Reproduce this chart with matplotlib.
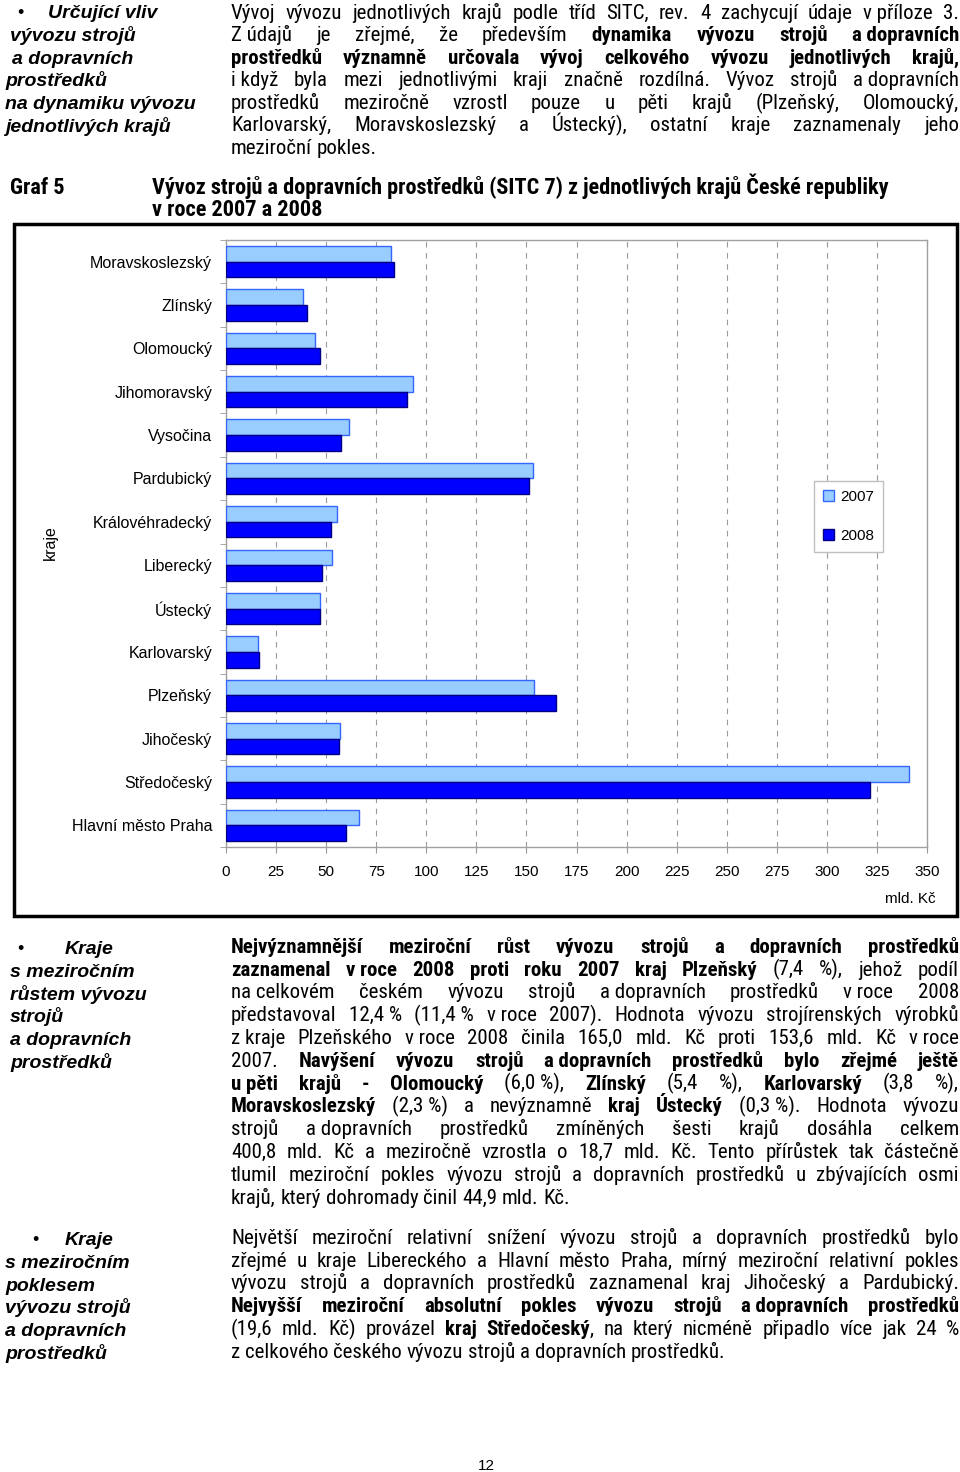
import numpy as np
import matplotlib
matplotlib.use("Agg")
import matplotlib.pyplot as plt
from matplotlib import font_manager
from matplotlib.font_manager import FontProperties
from matplotlib.patches import Patch, Rectangle

# Chart data: export of machinery and transport equipment (SITC 7), bn CZK
regions = ['Moravskoslezský', 'Zlínský', 'Olomoucký', 'Jihomoravský', 'Vysočina',
           'Pardubický', 'Královéhradecký', 'Liberecký', 'Ústecký', 'Karlovarský',
           'Plzeňský', 'Jihočeský', 'Středočeský', 'Hlavní město Praha']
export_2007 = [82.2, 38.5, 44.4, 93.6, 61.5, 153.5, 55.4, 52.8, 46.8, 16.1, 153.6, 56.7, 341.2, 66.3]
export_2008 = [84.1, 40.6, 47.1, 90.6, 57.6, 151.5, 52.2, 47.7, 46.9, 16.7, 165.0, 56.2, 321.6, 59.8]
series_labels = ['2007', '2008']
x_ticks = list(range(0, 351, 25))

NB = '\u00a0'

# Page text, one entry per printed line (** toggles bold)
intro_lines = [
    "Vývoj vývozu jednotlivých krajů podle tříd SITC, rev. 4 zachycují údaje v" + NB + "příloze 3.",
    "Z" + NB + "údajů je zřejmé, že především **dynamika vývozu strojů a" + NB + "dopravních**",
    "**prostředků významně určovala vývoj celkového vývozu jednotlivých krajů,**",
    "i" + NB + "když byla mezi jednotlivými kraji značně rozdílná. Vývoz strojů a" + NB + "dopravních",
    "prostředků meziročně vzrostl pouze u pěti krajů (Plzeňský, Olomoucký,",
    "Karlovarský, Moravskoslezský a Ústecký), ostatní kraje zaznamenaly jeho",
    "meziroční pokles.",
]
growth_lines = [
    "**Nejvýznamnější meziroční růst vývozu strojů a dopravních prostředků**",
    "**zaznamenal v" + NB + "roce 2008 proti roku 2007 kraj Plzeňský** (7,4 %), jehož podíl",
    "na" + NB + "celkovém českém vývozu strojů a" + NB + "dopravních prostředků v" + NB + "roce 2008",
    "představoval 12,4" + NB + "% (11,4" + NB + "% v" + NB + "roce 2007). Hodnota vývozu strojírenských výrobků",
    "z" + NB + "kraje Plzeňského v" + NB + "roce 2008 činila 165,0 mld. Kč proti 153,6 mld. Kč v" + NB + "roce",
    "2007. **Navýšení vývozu strojů a" + NB + "dopravních prostředků bylo zřejmé ještě**",
    "**u" + NB + "pěti krajů - Olomoucký** (6,0" + NB + "%), **Zlínský** (5,4 %), **Karlovarský** (3,8 %),",
    "**Moravskoslezský** (2,3" + NB + "%) a nevýznamně **kraj Ústecký** (0,3" + NB + "%). Hodnota vývozu",
    "strojů a" + NB + "dopravních prostředků zmíněných šesti krajů dosáhla celkem",
    "400,8 mld. Kč a meziročně vzrostla o 18,7 mld. Kč. Tento přírůstek tak částečně",
    "tlumil meziroční pokles vývozu strojů a dopravních prostředků u zbývajících osmi",
    "krajů, který dohromady činil 44,9 mld. Kč.",
]
decline_lines = [
    "Největší meziroční relativní snížení vývozu strojů a dopravních prostředků bylo",
    "zřejmé u kraje Libereckého a Hlavní město Praha, mírný meziroční relativní pokles",
    "vývozu strojů a dopravních prostředků zaznamenal kraj Jihočeský a Pardubický.",
    "**Nejvyšší meziroční absolutní pokles vývozu strojů a" + NB + "dopravních prostředků**",
    "(19,6 mld. Kč) provázel **kraj Středočeský**, na který nicméně připadlo více jak 24 %",
    "z celkového českého vývozu strojů a dopravních prostředků.",
]
caption_lines = ['Vývoz strojů a dopravních prostředků (SITC 7) z jednotlivých krajů České republiky',
                 'v roce 2007 a 2008']

ARIAL = 'Liberation Sans'


def find_narrow_fonts():
    """Look for a condensed sans family that has both regular and bold upright faces."""
    prefs = ['Liberation Sans Narrow', 'Arial Narrow', 'Roboto Condensed', 'Open Sans Condensed',
             'Noto Sans', 'Open Sans', 'DejaVu Sans', 'Roboto', 'Inter', 'Lato']
    narrow = {}
    for f in font_manager.fontManager.ttflist:
        cond = (f.stretch in ('condensed', 'semi-condensed', 'extra-condensed')
                or 'Narrow' in f.name or 'Condensed' in f.name)
        if not cond or f.style != 'normal':
            continue
        w = f.weight if isinstance(f.weight, int) else (700 if 'bold' in str(f.weight) else 400)
        rank_st = {'condensed': 0, 'extra-condensed': 1}.get(f.stretch, 2)
        slot = narrow.setdefault((f.name, f.stretch), {'rank': rank_st})
        if w == 400:
            slot['regular'] = f.fname
        elif w == 700:
            slot['bold'] = f.fname
    best = None
    for (name, stretch), slot in narrow.items():
        if 'regular' not in slot or 'bold' not in slot:
            continue
        p = prefs.index(name) if name in prefs else len(prefs)
        score = (p, slot['rank'])
        if best is None or score < best[0]:
            best = (score, slot)
    if best is None:
        return FontProperties(family=ARIAL), FontProperties(family=ARIAL, weight='bold')
    return FontProperties(fname=best[1]['regular']), FontProperties(fname=best[1]['bold'])


REG_FP, BOLD_FP = find_narrow_fonts()


def body_fp(bold, size):
    fp = (BOLD_FP if bold else REG_FP).copy()
    fp.set_size(size)
    return fp


def parse_words(line):
    """Split a marked-up line into words, each a list of (text, bold) runs."""
    words, cur = [], []
    for k, seg in enumerate(line.split('**')):
        bold = k % 2 == 1
        for j, piece in enumerate(seg.split(' ')):
            if j > 0 and cur:
                words.append(cur)
                cur = []
            if piece:
                cur.append((piece, bold))
    if cur:
        words.append(cur)
    return words


def text_width(page, renderer, s, fp):
    t = page.text(0, 0, s, fontproperties=fp)
    w = t.get_window_extent(renderer).width
    t.remove()
    return w


def draw_paragraph(page, renderer, lines, y0, step, size, x0=231, x1=959):
    """Draw justified lines (last line left aligned)."""
    fp = body_fp(False, size)
    space = text_width(page, renderer, 'x x', fp) - text_width(page, renderer, 'xx', fp)
    for i, line in enumerate(lines):
        y = y0 + i * step + 0.33 * size * 100 / 72
        placed = []
        for word in parse_words(line):
            runs = []
            for txt, bold in word:
                t = page.text(0, y, txt, fontproperties=body_fp(bold, size),
                              ha='left', va='baseline')
                runs.append((t, t.get_window_extent(renderer).width))
            placed.append(runs)
        total = sum(w for runs in placed for _, w in runs)
        last = i == len(lines) - 1
        gap = space if (last or len(placed) < 2) else (x1 - x0 - total) / (len(placed) - 1)
        x = x0
        for runs in placed:
            for t, w in runs:
                t.set_x(x)
                x += w
            x += gap


def draw_side_note(page, items, y0, step=22.8):
    """Bold italic notes in the left margin: list of (x, text)."""
    for i, (x, txt) in enumerate(items):
        page.text(x, y0 + i * step + 6, txt, family=ARIAL, fontsize=14,
                  fontweight='bold', fontstyle='italic', ha='left', va='baseline')


fig = plt.figure(figsize=(9.6, 14.72), dpi=100)
page = fig.add_axes([0, 0, 1, 1])
page.set_xlim(0, 960)
page.set_ylim(1472, 0)
page.axis('off')
renderer = fig.canvas.get_renderer()

# body size: fit the natural width of the first full line to ~722 px, like the reference
probe = intro_lines[0].replace(NB, ' ')
w10 = text_width(page, renderer, probe, body_fp(False, 10))
BODY_SIZE = min(15.0, 10 * 722 / w10)
wc = text_width(page, renderer, caption_lines[0], body_fp(True, 10))
CAP_SIZE = min(BODY_SIZE + 1.0, 10 * 778 / wc)

# left margin notes
draw_side_note(page, [(48, 'Určující vliv'), (10, 'vývozu strojů'), (12, 'a dopravních'),
                      (5, 'prostředků'), (5, 'na dynamiku vývozu'), (5, 'jednotlivých krajů')], 12)
draw_side_note(page, [(65, 'Kraje'), (10, 's meziročním'), (10, 'růstem vývozu'),
                      (10, 'strojů'), (10, 'a dopravních'), (10, 'prostředků')], 948)
draw_side_note(page, [(65, 'Kraje'), (5, 's meziročním'), (5, 'poklesem'),
                      (5, 'vývozu strojů'), (5, 'a dopravních'), (5, 'prostředků')], 1239)
for bx, by in [(17, 12), (17, 948), (32, 1239)]:
    page.text(bx, by + 6, '•', family=ARIAL, fontsize=13, ha='left', va='baseline')

draw_paragraph(page, renderer, intro_lines, 12, 22.5, BODY_SIZE)
draw_paragraph(page, renderer, growth_lines, 946, 22.8, BODY_SIZE)
draw_paragraph(page, renderer, decline_lines, 1237, 22.8, BODY_SIZE)

# chart caption
cap_fp = body_fp(True, CAP_SIZE)
page.text(10, 194, 'Graf 5', fontproperties=cap_fp, va='baseline')
page.text(152, 194, caption_lines[0], fontproperties=cap_fp, va='baseline')
page.text(152, 216, caption_lines[1], fontproperties=cap_fp, va='baseline')

# chart frame and outer labels
page.add_patch(Rectangle((14, 224), 943, 692, fill=False, edgecolor='black', linewidth=2.5))
page.text(50, 543, 'kraje', family=ARIAL, fontsize=11.5, rotation=90, ha='center', va='center')
page.text(936, 899, 'mld. Kč', family=ARIAL, fontsize=11, ha='right', va='center')
page.text(486, 1466, '12', family=ARIAL, fontsize=11, ha='center', va='center')

# bar chart
ax = fig.add_axes([226 / 960, 1 - 847 / 1472, (927 - 226) / 960, (847 - 240) / 1472])
ypos = np.arange(len(regions))
h = 0.36
ax.barh(ypos - h / 2, export_2007, height=h, color='#99ccff', edgecolor='#3366ff',
        linewidth=1, zorder=3)
ax.barh(ypos + h / 2, export_2008, height=h, color='#0000ff', edgecolor='#000080',
        linewidth=1, zorder=3)
ax.set_ylim(len(regions) - 0.5, -0.5)
ax.set_xlim(0, 350)
ax.set_xticks(x_ticks)
ax.set_xticklabels([str(v) for v in x_ticks], family=ARIAL, fontsize=11)
ax.set_yticks(ypos)
ax.set_yticklabels(regions, family=ARIAL, fontsize=11.5)
ax.set_yticks(np.arange(len(regions) + 1) - 0.5, minor=True)
ax.tick_params(axis='y', which='major', length=0, pad=10)
ax.tick_params(axis='y', which='minor', length=4, color='#999999', direction='out')
ax.tick_params(axis='x', length=4, color='#999999', pad=9)
ax.grid(axis='x', color='#9a9a9a', linestyle=(0, (5, 5)), linewidth=0.8, zorder=0)
for s in ax.spines.values():
    s.set_color('#a0a0a0')
    s.set_linewidth(1)

handles = [Patch(facecolor='#99ccff', edgecolor='#3366ff'),
           Patch(facecolor='#0000ff', edgecolor='#000080')]
leg = ax.legend(handles, series_labels, loc='upper left',
                bbox_to_anchor=(814 / 960, 1 - 481 / 1472), bbox_transform=fig.transFigure,
                prop={'family': ARIAL, 'size': 11}, handlelength=0.7, handleheight=0.7,
                handletextpad=0.4, labelspacing=1.6, borderpad=0.6, borderaxespad=0,
                fancybox=False, framealpha=1, edgecolor='#c0c0c0')
leg.get_frame().set_linewidth(1)

fig.savefig('out.png', dpi=100)
